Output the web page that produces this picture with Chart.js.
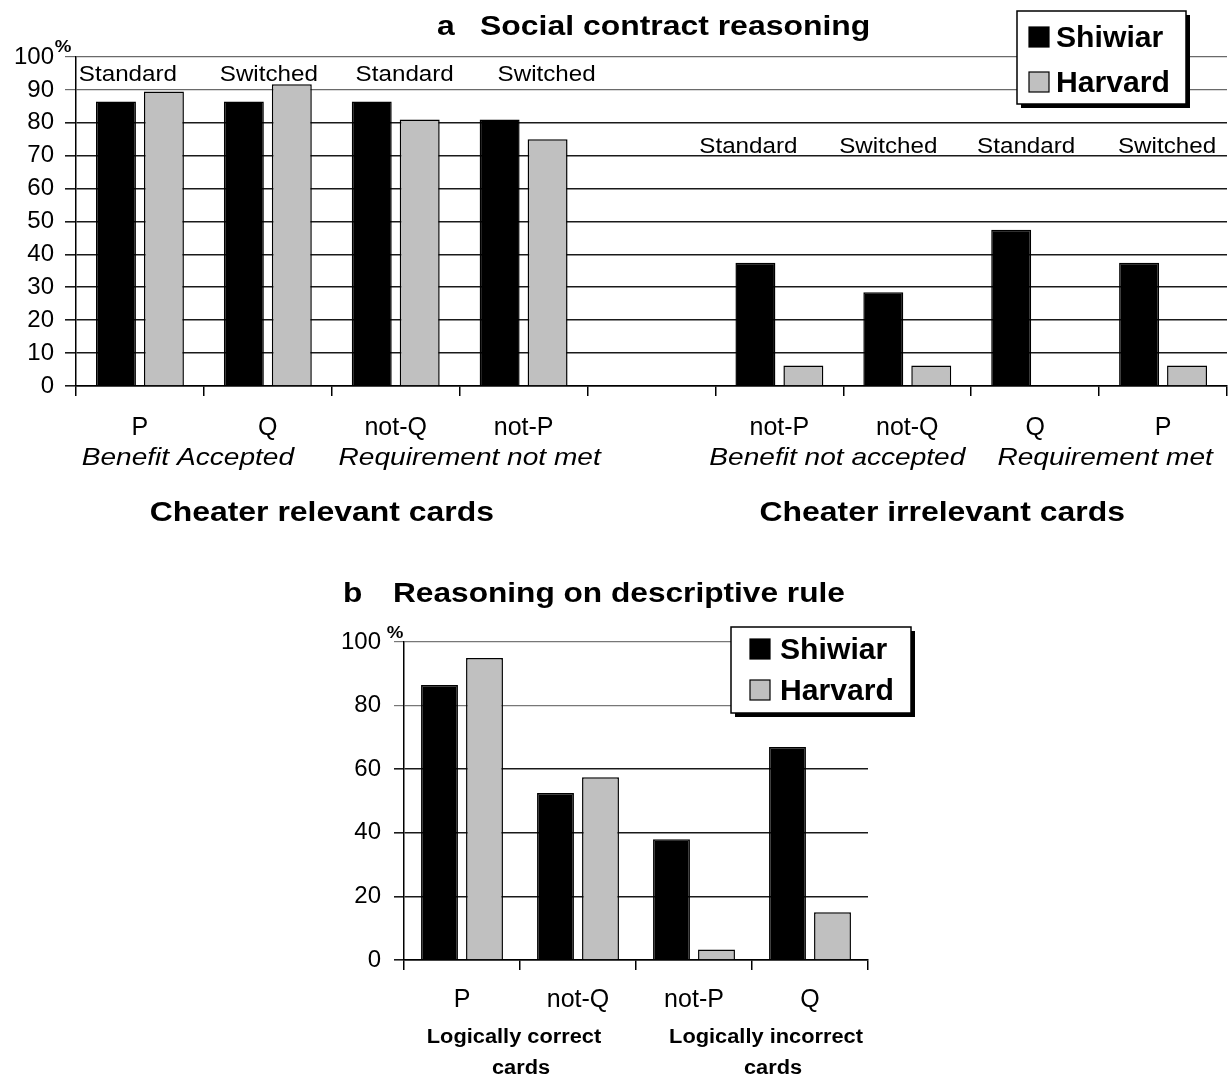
<!DOCTYPE html>
<html>
<head>
<meta charset="utf-8">
<script src="https://cdn.jsdelivr.net/npm/chart.js@4.4.1/dist/chart.umd.min.js"></script>
<style>
  html, body { margin: 0; padding: 0; background: #fff; }
  #wrapA { position: absolute; left: 0; top: 0; width: 1228px; height: 545px; }
  #wrapB { position: absolute; left: 0; top: 545px; width: 1228px; height: 534px; }
</style>
</head>
<body>
<div id="wrapA"><canvas id="chartA" width="1228" height="545"></canvas></div>
<div id="wrapB"><canvas id="chartB" width="1228" height="534"></canvas></div>
<script>
// ---------- Data: panel a ----------
const categoriesA = ['P', 'Q', 'not-Q', 'not-P', '', 'not-P', 'not-Q', 'Q', 'P'];
const shiwiarA = [86.5, 86.5, 86.5, 81, null, 37.5, 28.5, 47.5, 37.5];
const harvardA = [89.5, 91.7, 81, 75, null, 6.25, 6.25, 0, 6.25];
const conditionLabelsA = ['Standard', 'Switched', 'Standard', 'Switched', '', 'Standard', 'Switched', 'Standard', 'Switched'];
const groupLabelsA = ['Benefit Accepted', 'Requirement not met', 'Benefit not accepted', 'Requirement met'];
const sectionLabelsA = ['Cheater relevant cards', 'Cheater irrelevant cards'];
const yTicksA = { min: 0, max: 100, step: 10 };

// ---------- Data: panel b ----------
const categoriesB = ['P', 'not-Q', 'not-P', 'Q'];
const shiwiarB = [86.5, 52.5, 38, 67];
const harvardB = [95, 57.5, 3.3, 15];
const groupLabelsB = [['Logically correct', 'cards'], ['Logically incorrect', 'cards']];
const yTicksB = { min: 0, max: 100, step: 20 };

const seriesNames = ['Shiwiar', 'Harvard'];
const titleA = ['a', 'Social contract reasoning'];
const titleB = ['b', 'Reasoning on descriptive rule'];

// ---------- Styling ----------
const FONT = "'Liberation Sans', Arial, Helvetica, sans-serif";
Chart.defaults.font.family = FONT;
Chart.defaults.color = '#000';
const BLACK = '#000000';
const GRAY = '#c0c0c0';

function txt(ctx, s, x, y, font, sx, align) {
  ctx.save();
  ctx.font = font;
  ctx.fillStyle = '#000';
  ctx.textBaseline = 'alphabetic';
  ctx.textAlign = align || 'center';
  ctx.translate(x, y);
  ctx.scale(sx, 1);
  ctx.fillText(s, 0, 0);
  ctx.restore();
}

function drawLegend(ctx, bx, by, bw, bh, sq, textX, baselines) {
  ctx.save();
  ctx.fillStyle = '#000';
  ctx.fillRect(bx + 4, by + 4, bw, bh);
  ctx.fillStyle = '#fff';
  ctx.fillRect(bx, by, bw, bh);
  ctx.strokeStyle = '#000';
  ctx.lineWidth = 1.5;
  ctx.strokeRect(bx, by, bw, bh);
  const colors = [BLACK, GRAY];
  for (let i = 0; i < 2; i++) {
    ctx.fillStyle = colors[i];
    ctx.fillRect(sq.x, baselines[i] - sq.s, sq.s, sq.s);
    ctx.lineWidth = 1.2;
    ctx.strokeRect(sq.x, baselines[i] - sq.s, sq.s, sq.s);
    txt(ctx, seriesNames[i], textX, baselines[i], 'bold 29px ' + FONT, 1.04, 'left');
  }
  ctx.restore();
}

function makeDatasets(s, h, barPct, catPct) {
  return [
    { label: seriesNames[0], data: s, backgroundColor: BLACK, borderColor: BLACK, borderWidth: 1.5,
      barPercentage: barPct, categoryPercentage: catPct },
    { label: seriesNames[1], data: h, backgroundColor: GRAY, borderColor: BLACK, borderWidth: 1.5,
      barPercentage: barPct, categoryPercentage: catPct }
  ];
}

// ---------- Panel a annotations ----------
const condNudgeA = [-12, 1, 9, 23, 0, -31, -19, -9, 4];
const groupPairsA = [[0, 1], [2, 3], [5, 6], [7, 8]];
const groupNudgeA = [-16, 10, -6, 6];
const sectionRangesA = [[0, 3], [5, 8]];
const sectionNudgeA = [-10, -29];

const annotA = {
  id: 'annotA',
  afterDraw(chart) {
    const ctx = chart.ctx, xs = chart.scales.x, ys = chart.scales.y;
    txt(ctx, titleA[0], 437, 35, 'bold 28px ' + FONT, 1.14, 'left');
    txt(ctx, titleA[1], 480, 35, 'bold 28px ' + FONT, 1.14, 'left');
    txt(ctx, '%', 63, 52, 'bold 17px ' + FONT, 1.1, 'center');
    conditionLabelsA.forEach((s, i) => {
      if (!s) return;
      const level = i < 4 ? 92.7 : 70.8;
      txt(ctx, s, xs.getPixelForValue(i) + condNudgeA[i], ys.getPixelForValue(level), '22px ' + FONT, 1.1, 'center');
    });
    groupLabelsA.forEach((s, k) => {
      const [a, b] = groupPairsA[k];
      const x = (xs.getPixelForValue(a) + xs.getPixelForValue(b)) / 2 + groupNudgeA[k];
      txt(ctx, s, x, 465, 'italic 24px ' + FONT, 1.17, 'center');
    });
    sectionLabelsA.forEach((s, k) => {
      const [a, b] = sectionRangesA[k];
      const x = (xs.getPixelForValue(a) + xs.getPixelForValue(b)) / 2 + sectionNudgeA[k];
      txt(ctx, s, x, 521, 'bold 28px ' + FONT, 1.14, 'center');
    });
    drawLegend(ctx, 1017, 11, 169, 93, { x: 1029, s: 20 }, 1056, [47, 92]);
  }
};

// ---------- Panel b annotations ----------
const groupPairsB = [[0, 1], [2, 3]];
const groupNudgeB = [[-6, 1], [14, 21]];

const annotB = {
  id: 'annotB',
  afterDraw(chart) {
    const ctx = chart.ctx, xs = chart.scales.x;
    txt(ctx, titleB[0], 343, 57, 'bold 28px ' + FONT, 1.13, 'left');
    txt(ctx, titleB[1], 393, 57, 'bold 28px ' + FONT, 1.13, 'left');
    txt(ctx, '%', 395, 93, 'bold 17px ' + FONT, 1.1, 'center');
    groupLabelsB.forEach((lines, k) => {
      const [a, b] = groupPairsB[k];
      const mid = (xs.getPixelForValue(a) + xs.getPixelForValue(b)) / 2;
      txt(ctx, lines[0], mid + groupNudgeB[k][0], 498, 'bold 20px ' + FONT, 1.09, 'center');
      txt(ctx, lines[1], mid + groupNudgeB[k][1], 529, 'bold 20px ' + FONT, 1.09, 'center');
    });
    drawLegend(ctx, 731, 82, 180, 86, { x: 750, s: 20 }, 780, [114, 155]);
  }
};

function baseOptions(cfg) {
  return {
    responsive: false,
    animation: false,
    layout: { padding: cfg.padding },
    plugins: { legend: { display: false }, tooltip: { enabled: false }, title: { display: false } },
    scales: {
      x: {
        offset: true,
        grid: { display: true, offset: true, drawOnChartArea: false, drawTicks: true, tickLength: 10, color: '#000', lineWidth: 1.5 },
        border: { display: true, color: '#000', width: 1.5 },
        ticks: { font: { size: 25 }, color: '#000', padding: cfg.xPad, maxRotation: 0, autoSkip: false },
        afterFit: s => { s.height = cfg.xHeight; }
      },
      y: {
        min: cfg.yt.min, max: cfg.yt.max,
        ticks: { stepSize: cfg.yt.step, font: { size: 24 }, color: '#000', padding: cfg.yPad },
        grid: { color: cfg.gridColor, lineWidth: cfg.gridWidth, tickLength: cfg.yTick, drawTicks: true },
        border: { display: true, color: '#000', width: 1.5 },
        afterFit: s => { s.width = cfg.yWidth; }
      }
    }
  };
}

new Chart(document.getElementById('chartA'), {
  type: 'bar',
  data: { labels: categoriesA, datasets: makeDatasets(shiwiarA, harvardA, 0.833, 0.75) },
  options: baseOptions({
    padding: { top: 57, left: 0, right: 1, bottom: 0 },
    xPad: 17, xHeight: 159, yt: yTicksA, yPad: 11, yTick: 11, yWidth: 76,
    gridColor: c => (c.tick && c.tick.value >= 90 ? '#6a6a6a' : '#1a1a1a'),
    gridWidth: c => (c.tick && c.tick.value >= 90 ? 1.2 : 1.6)
  }),
  plugins: [annotA]
});

new Chart(document.getElementById('chartB'), {
  type: 'bar',
  data: { labels: categoriesB, datasets: makeDatasets(shiwiarB, harvardB, 0.82, 0.776) },
  options: baseOptions({
    padding: { top: 97, left: 340, right: 360, bottom: 0 },
    xPad: 15, xHeight: 119, yt: yTicksB, yPad: 13, yTick: 10, yWidth: 64,
    gridColor: c => (c.tick && c.tick.value >= 80 ? '#777777' : '#1a1a1a'),
    gridWidth: c => (c.tick && c.tick.value >= 80 ? 1.2 : 1.6)
  }),
  plugins: [annotB]
});
</script>
</body>
</html>
